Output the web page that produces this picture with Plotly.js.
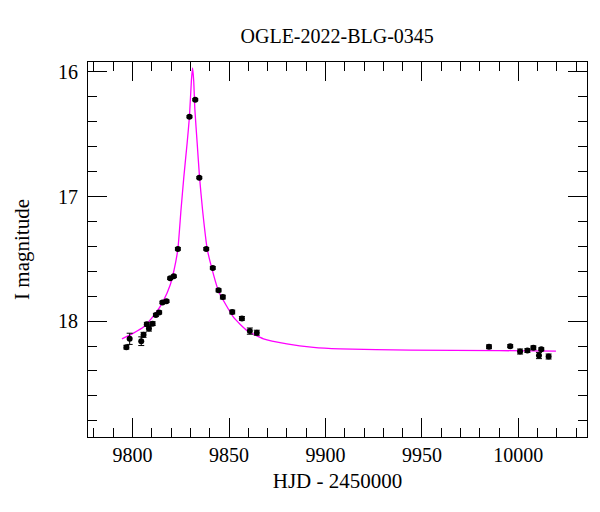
<!DOCTYPE html>
<html>
<head>
<meta charset="utf-8">
<script src="https://cdn.plot.ly/plotly-3.0.1.min.js"></script>
<style>
  html, body { margin: 0; padding: 0; background: #fff; }
  #chart { width: 600px; height: 512px; }
</style>
</head>
<body>
<div id="chart"></div>
<script>
// ── Data ──────────────────────────────────────────────────────────────────────
const obsHjd = [9796.8, 9798.5, 9804.5, 9805.7, 9807.4, 9808.5, 9810.4, 9812.1, 9813.8,
  9815.5, 9817.6, 9819.5, 9821.4, 9823.5, 9829.5, 9832.5, 9834.6, 9838.2, 9841.6,
  9844.6, 9846.8, 9851.7, 9856.7, 9860.8, 9864.4,
  9984.8, 9995.8, 10000.9, 10004.7, 10007.8, 10010.7, 10011.9, 10015.7];
const obsMag = [18.209, 18.142, 18.161, 18.11, 18.025, 18.06, 18.02, 17.95, 17.93,
  17.85, 17.84, 17.656, 17.64, 17.42, 16.36, 16.223, 16.849, 17.42, 17.573,
  17.753, 17.807, 17.927, 17.978, 18.08, 18.093,
  18.206, 18.201, 18.244, 18.236, 18.214, 18.276, 18.226, 18.284];
const obsErr = [0.015, 0.045, 0.035, 0.02, 0.015, 0.02, 0.015, 0.012, 0.012,
  0.01, 0.01, 0.01, 0.01, 0.01, 0.008, 0.008, 0.008, 0.01, 0.01,
  0.012, 0.015, 0.015, 0.015, 0.025, 0.02,
  0.015, 0.012, 0.02, 0.015, 0.015, 0.025, 0.012, 0.02];

const modelHjd = [9794.5, 9800.0, 9805.7, 9811.8, 9816.1, 9819.5, 9821.5, 9823.5, 9825.1,
  9826.6, 9828.3, 9829.5, 9830.5, 9831.1, 9831.7, 9832.3, 9833.5, 9834.7, 9836.3,
  9838.7, 9840.9, 9844.6, 9852.3, 9859.3, 9867.9, 9880.0, 9893.8, 9907.6,
  9944.0, 9990.0, 10019.5];
const modelMag = [18.142, 18.10, 18.048, 17.94, 17.833, 17.71, 17.59, 17.42, 17.11,
  16.84, 16.57, 16.357, 16.07, 15.968, 16.07, 16.30, 16.57, 16.84, 17.11,
  17.42, 17.565, 17.76, 17.968, 18.075, 18.142, 18.182, 18.21, 18.222,
  18.233, 18.237, 18.24];

const TITLE = 'OGLE-2022-BLG-0345';
const FONT = 'Liberation Serif';

// ── Traces ────────────────────────────────────────────────────────────────────
const traces = [{
  x: modelHjd, y: modelMag,
  type: 'scatter', mode: 'lines',
  line: { color: '#ff00ff', width: 1.3, shape: 'spline', smoothing: 0.5 },
  hoverinfo: 'skip',
}, {
  x: obsHjd, y: obsMag,
  type: 'scatter', mode: 'markers',
  marker: { color: '#000', size: 6 },
  error_y: { type: 'data', array: obsErr, visible: true, color: '#000', thickness: 1, width: 3 },
}];

// ── Layout ────────────────────────────────────────────────────────────────────
const axisCommon = {
  showgrid: false, zeroline: false,
  showline: true, linecolor: '#000', linewidth: 1, mirror: 'allticks',
  ticks: 'inside', ticklen: 19, tickwidth: 1, tickcolor: '#000',
  tickformat: 'd',
  tickfont: { family: FONT, size: 20, color: '#000' },
};

Plotly.newPlot('chart', traces, {
  width: 600, height: 512,
  paper_bgcolor: '#fff', plot_bgcolor: '#fff',
  showlegend: false,
  margin: { l: 88, r: 13, t: 62, b: 75 },
  font: { family: FONT, color: '#000' },
  title: { text: TITLE, font: { family: FONT, size: 20, color: '#000' }, x: 0.562, xanchor: 'center', y: 0.93, yanchor: 'middle' },
  xaxis: {
    ...axisCommon,
    range: [9776.9, 10035.6],
    tick0: 9800, dtick: 50,
    minor: { dtick: 10, ticks: 'inside', ticklen: 9, tickcolor: '#000', tickwidth: 1 },
    title: { text: 'HJD - 2450000', font: { family: FONT, size: 21, color: '#000' }, standoff: 8 },
  },
  yaxis: {
    ...axisCommon,
    range: [18.93, 15.92],
    tick0: 16, dtick: 1,
    ticklabelstandoff: 5,
    minor: { dtick: 0.2, ticks: 'inside', ticklen: 9, tickcolor: '#000', tickwidth: 1 },
    title: { text: 'I magnitude', font: { family: FONT, size: 21, color: '#000' }, standoff: 22 },
  },
}, { displayModeBar: false, staticPlot: true });
</script>
</body>
</html>
